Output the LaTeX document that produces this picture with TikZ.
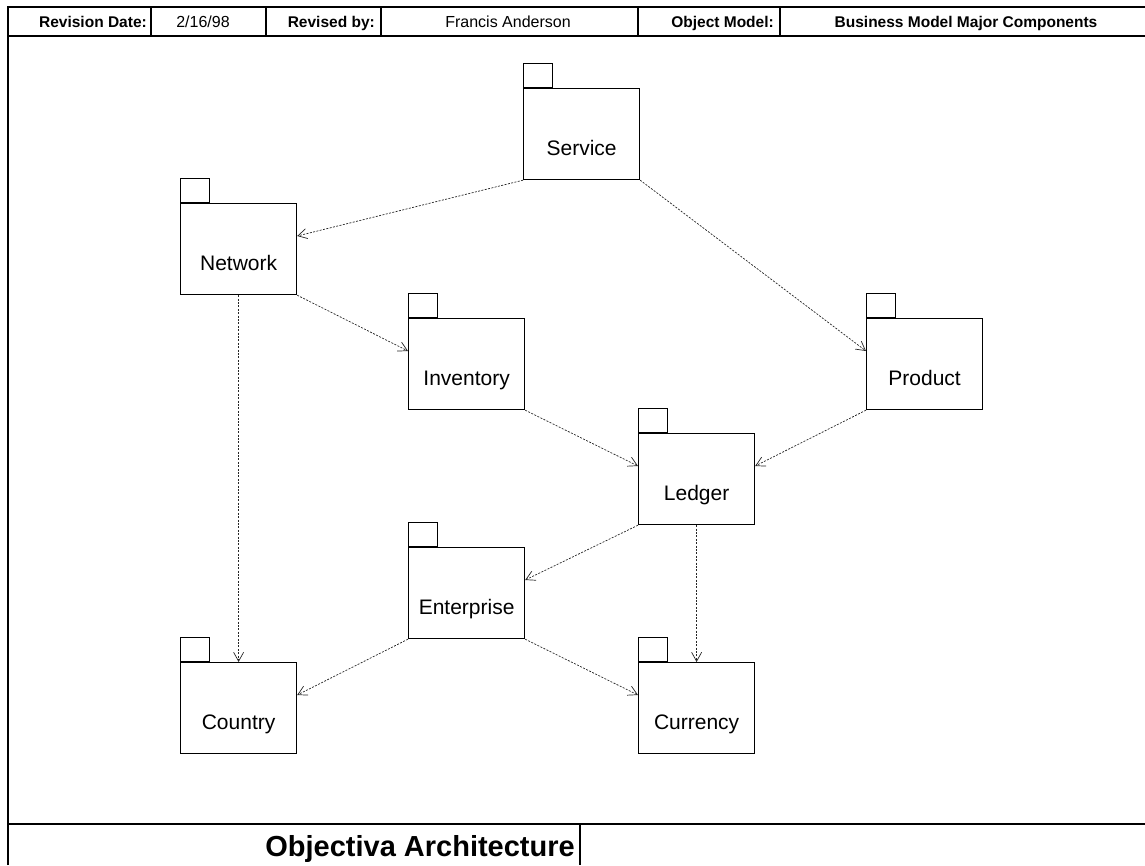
\documentclass[tikz,border=0pt]{standalone}
\usepackage{fontspec}
\setmainfont{Liberation Sans}
\usetikzlibrary{arrows.meta}

\begin{document}
\begin{tikzpicture}[x=1pt, y=-1pt,
  frame/.style={draw=black, line width=1.6pt},
  cell/.style={draw=black, line width=1.2pt},
  hdrkey/.style={font=\fontsize{15.5}{18}\selectfont\bfseries, anchor=base east, inner sep=0pt},
  hdrval/.style={font=\fontsize{16}{18}\selectfont, anchor=base, inner sep=0pt},
  pkgbody/.style={draw=black, line width=1.2pt, anchor=north west,
    minimum width=116pt, minimum height=91pt, inner sep=0pt},
  pkgtab/.style={draw=black, line width=1.2pt, anchor=south west,
    minimum width=29pt, minimum height=24pt, inner sep=0pt},
  pkglabel/.style={font=\fontsize{21}{24}\selectfont, anchor=base, inner sep=0pt},
  dep/.style={draw=black!85, line width=0.7pt, dash pattern=on 2pt off 1.4pt,
    -{Straight Barb[length=9pt, width=10pt, line width=0.7pt]}},
]
\useasboundingbox (0,0) rectangle (1145,865);

% title block frame
\draw[frame] (8,865) -- (8,7) -- (1145,7);
\draw[frame] (8,36) -- (1145,36);
\draw[frame] (8,824) -- (1145,824);
\foreach \xc in {151,266,381,638,780} \draw[cell] (\xc,7) -- (\xc,36);
\draw[cell] (580,824) -- (580,865);

% header entries
\node[hdrkey] (kdate) at (147,27) {Revision Date:};
\node[hdrval] (vdate) at (203,27) {2/16/98};
\node[hdrkey] (kby) at (375,27) {Revised by:};
\node[hdrval] (vby) at (508,27) {Francis Anderson};
\node[hdrkey] (kmodel) at (774,27) {Object Model:};
\node[hdrval, font=\fontsize{15.5}{18}\selectfont\bfseries] (vmodel) at (966,27) {Business Model Major Components};

% footer title
\node[font=\fontsize{29}{32}\selectfont\bfseries, anchor=base east, inner sep=0pt] (ftitle) at (575,856) {Objectiva Architecture};

% a UML package: body, tab and name
\newcommand{\pkgbox}[4]{%
  \node[pkgbody] (#1) at (#2,#3) {};
  \node[pkgtab] (#1-tab) at (#1.north west) {};
  \node[pkglabel] (#1-txt) at ([yshift=-67pt]#1.north) {#4};
}

\pkgbox{svc}{523}{88}{Service}
\pkgbox{net}{180}{203}{Network}
\pkgbox{inv}{408}{318}{Inventory}
\pkgbox{prd}{866}{318}{Product}
\pkgbox{led}{638}{433}{Ledger}
\pkgbox{ent}{408}{547}{Enterprise}
\pkgbox{cty}{180}{662}{Country}
\pkgbox{cur}{638}{662}{Currency}

% dependencies
\draw[dep] (svc.south west) -- ([yshift=-33pt]net.north east);
\draw[dep] (svc.south east) -- ([yshift=-33pt]prd.north west);
\draw[dep] (net.south east) -- ([yshift=-33pt]inv.north west);
\draw[dep] (net.south) -- (cty.north);
\draw[dep] (inv.south east) -- ([yshift=-33pt]led.north west);
\draw[dep] (prd.south west) -- ([yshift=-33pt]led.north east);
\draw[dep] (led.south west) -- ([yshift=-33pt]ent.north east);
\draw[dep] (led.south) -- (cur.north);
\draw[dep] (ent.south west) -- ([yshift=-33pt]cty.north east);
\draw[dep] (ent.south east) -- ([yshift=-33pt]cur.north west);
\end{tikzpicture}
\end{document}
